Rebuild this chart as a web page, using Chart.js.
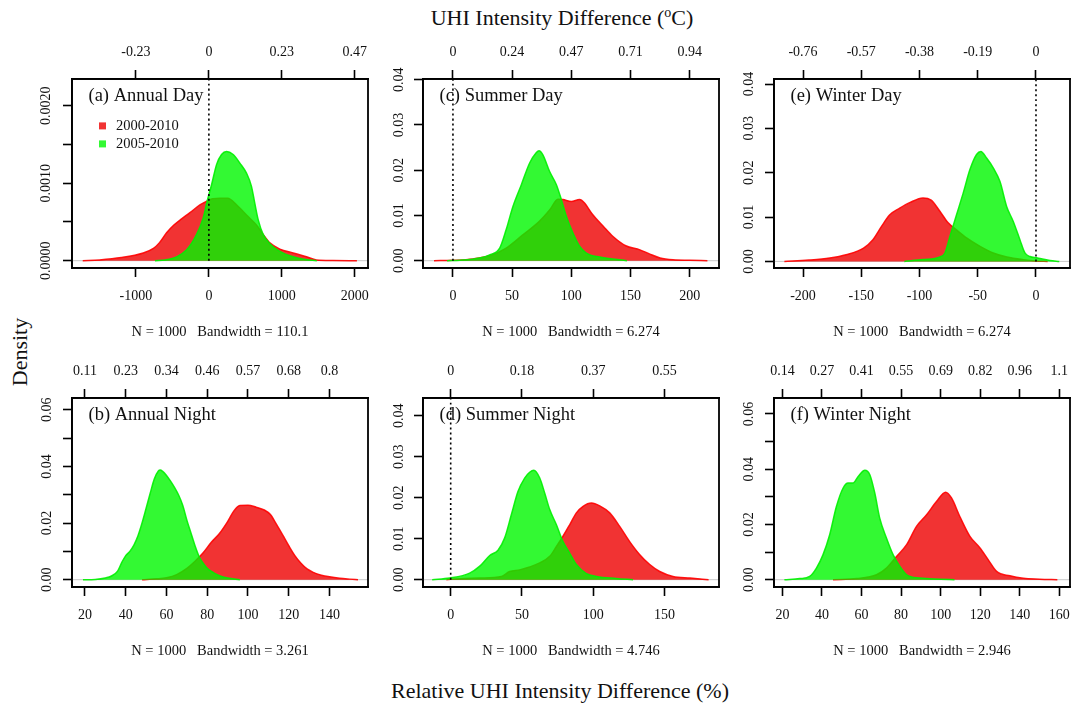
<!DOCTYPE html>
<html>
<head>
<meta charset="utf-8">
<script src="https://cdn.jsdelivr.net/npm/chart.js@4.4.0/dist/chart.umd.min.js"></script>
<style>
  html, body { margin: 0; padding: 0; background: #fff; overflow: hidden; }
  #page { position: relative; width: 1071px; height: 703px; font-family: "Liberation Serif", serif; color: #111; }
  #page canvas { position: absolute; }
  .lab { position: absolute; font-size: 22px; white-space: nowrap; transform: translate(-50%, -50%); }
  .sup { font-size: 14px; position: relative; top: -8px; }
</style>
</head>
<body>
<div id="page">
  <div class="lab" style="left:562px;top:18px">UHI Intensity Difference (<span class="sup">o</span>C)</div>
  <div class="lab" style="left:20px;top:352px;transform:translate(-50%,-50%) rotate(-90deg)">Density</div>
  <div class="lab" style="left:560px;top:691px">Relative UHI Intensity Difference (%)</div>
</div>
<script>
// series
const seriesNames = ["2000-2010", "2005-2010"];
const panelTitles = ["(a) Annual Day", "(b) Annual Night", "(c) Summer Day", "(d) Summer Night", "(e) Winter Day", "(f) Winter Night"];
const sampleSize = 1000;
const bandwidths = ["110.1", "3.261", "6.274", "4.746", "6.274", "2.946"];

// bottom axis ticks (relative difference, %)
const bottomTicks = [
  [-1000, 0, 1000, 2000],
  [20, 40, 60, 80, 100, 120, 140],
  [0, 50, 100, 150, 200],
  [0, 50, 100, 150],
  [-200, -150, -100, -50, 0],
  [20, 40, 60, 80, 100, 120, 140, 160]
];
// top axis labels (UHI intensity difference, oC), one per bottom tick
const topTickLabels = [
  ["-0.23", "0", "0.23", "0.47"],
  ["0.11", "0.23", "0.34", "0.46", "0.57", "0.68", "0.8"],
  ["0", "0.24", "0.47", "0.71", "0.94"],
  ["0", "0.18", "0.37", "0.55"],
  ["-0.76", "-0.57", "-0.38", "-0.19", "0"],
  ["0.14", "0.27", "0.41", "0.55", "0.69", "0.82", "0.96", "1.1"]
];

// density curves: [relative difference %, density]
const annualDay2000 = [[-1730,0],[-1500,0.00001],[-1200,0.00004],[-900,0.0001],[-760,0.00016],[-680,0.00023],[-580,0.00036],[-480,0.00046],[-374,0.00054],[-260,0.00062],[-123,0.00072],[-23,0.00077],[50,0.0008],[150,0.000805],[260,0.000805],[379,0.00072],[516,0.00059],[653,0.00046],[744,0.00034],[836,0.00023],[973,0.00015],[1155,0.0001],[1338,0.00005],[1475,0.00001],[1700,0.000003],[2030,0]];
const annualDay2005 = [[-740,0],[-600,0.00001],[-442,0.00005],[-305,0.00014],[-168,0.00034],[-78,0.00055],[-23,0.00077],[37,0.00098],[105,0.00124],[174,0.00137],[242,0.00141],[333,0.00137],[425,0.00126],[516,0.00113],[584,0.00096],[630,0.00074],[676,0.00053],[744,0.00034],[836,0.00022],[973,0.00012],[1155,0.00005],[1300,0.00002],[1480,0]];

const annualNight2000 = [[48,0],[55,0.0003],[60,0.0007],[65,0.0018],[70,0.004],[74,0.0065],[78,0.0095],[82,0.0132],[86,0.0163],[90,0.0205],[93,0.0242],[96,0.0262],[100,0.0263],[104,0.0256],[108,0.0246],[111,0.023],[114,0.0195],[117,0.0158],[120,0.012],[123,0.0085],[126,0.0058],[129,0.0038],[132,0.0026],[136,0.0016],[140,0.001],[145,0.0005],[150,0.0002],[154,0]];
const annualNight2005 = [[19,0],[25,0.0001],[30,0.0006],[33,0.0013],[36,0.003],[38,0.006],[40,0.0085],[42,0.01],[44,0.0122],[46,0.0155],[48,0.02],[50,0.0252],[52,0.0305],[54,0.0355],[56,0.0384],[57,0.0387],[58,0.0383],[60,0.0368],[62,0.0348],[64,0.0325],[66,0.0298],[68,0.0262],[70,0.021],[72,0.0165],[74,0.012],[76,0.0082],[78,0.0058],[80,0.004],[83,0.0025],[86,0.0014],[90,0.0006],[96,0]];

const summerDay2000 = [[-16,0],[0,0.0001],[17,0.0004],[31,0.0011],[45,0.0028],[59,0.0057],[73,0.0087],[82,0.0113],[88.7,0.0136],[93,0.0135],[100,0.0131],[107,0.0135],[111,0.0128],[118,0.0102],[127,0.0076],[135,0.0054],[146,0.0033],[158,0.0024],[166,0.0015],[175,0.0006],[186,0.0002],[200,0.0001],[215,0]];
const summerDay2005 = [[-5,0],[6,0.0001],[22.5,0.0006],[31,0.0013],[39.5,0.0028],[45,0.0069],[50.7,0.012],[57.8,0.0168],[64.8,0.0216],[70.5,0.0239],[72.7,0.0243],[76,0.0234],[81.7,0.0197],[87.4,0.0168],[91.6,0.0135],[95.8,0.0098],[101.4,0.0061],[107,0.0032],[112.7,0.0017],[124,0.0008],[135,0.0004],[147,0]];

const summerNight2000 = [[-3,0],[0,0.0001],[20,0.0004],[35.6,0.0008],[41.4,0.002],[48.4,0.0024],[55.4,0.0031],[62.5,0.0041],[69.5,0.0057],[74.2,0.0081],[78.8,0.0106],[83.5,0.0134],[88.2,0.0163],[92.9,0.0179],[98.8,0.0187],[104.6,0.018],[111.6,0.0163],[118.6,0.013],[125.6,0.0093],[132.7,0.0061],[139.7,0.0037],[146.7,0.002],[156,0.0008],[168,0.0004],[181,0]];
const summerNight2005 = [[-13,0],[-0.7,0.0004],[13.3,0.0016],[20.4,0.0033],[27.4,0.0059],[33.2,0.0072],[37.9,0.0102],[42.6,0.0159],[47.2,0.0215],[51.9,0.0248],[55.4,0.0262],[58.3,0.0267],[62.5,0.0248],[66,0.0211],[69.5,0.0171],[74.2,0.0134],[78.8,0.0093],[83.5,0.0065],[88.2,0.0037],[95.2,0.0015],[102.3,0.0008],[116,0.0003],[128,0]];

const winterDay2000 = [[-216,0],[-195,0.0003],[-177,0.00076],[-163,0.0015],[-148,0.003],[-140,0.0049],[-132.6,0.0079],[-125.5,0.0105],[-117,0.012],[-108,0.0133],[-97,0.0143],[-90,0.0138],[-82.5,0.0113],[-75.4,0.0087],[-68.2,0.0071],[-59.6,0.0053],[-48,0.0034],[-36.7,0.0019],[-25,0.001],[-11,0.0004],[0,0.0001],[10,0]];
const winterDay2005 = [[-113,0],[-97,0.0004],[-82.5,0.001],[-78.2,0.0019],[-73.9,0.0056],[-68.2,0.0105],[-62.5,0.0154],[-56.7,0.0207],[-51,0.0241],[-47.3,0.0248],[-42.4,0.0233],[-36.7,0.0211],[-30.9,0.018],[-25.2,0.0124],[-19.5,0.009],[-13.8,0.0049],[-9.5,0.0019],[-5.2,0.0011],[0.6,0.0008],[12,0.0002],[20,0]];

const winterNight2000 = [[45.6,0],[57.5,0.0004],[67.6,0.0018],[72.6,0.0042],[77.7,0.0084],[82.8,0.0127],[87.8,0.0193],[92.9,0.0235],[97.9,0.0283],[102.5,0.0317],[105.5,0.0296],[109.7,0.0229],[114.8,0.0157],[119.9,0.0115],[124.1,0.0072],[128.3,0.003],[135,0.0014],[141.8,0.0005],[150,0.0002],[159,0]];
const winterNight2005 = [[21,0],[28.8,0.0004],[33.8,0.0012],[37.2,0.0042],[40.5,0.009],[43.9,0.0163],[47.3,0.0265],[50.7,0.0332],[53.2,0.035],[55.7,0.035],[58.3,0.0374],[61.7,0.0396],[64.2,0.038],[66.7,0.0314],[69.2,0.0223],[72.6,0.0151],[76,0.009],[79.4,0.0048],[82.8,0.0018],[89.5,0.0006],[100,0.0002],[107,0]];

const curves = [
  [annualDay2000, annualDay2005],
  [annualNight2000, annualNight2005],
  [summerDay2000, summerDay2005],
  [summerNight2000, summerNight2005],
  [winterDay2000, winterDay2005],
  [winterNight2000, winterNight2005]
];

// layout: plot box in page pixels, axis ranges, y step
const frames = [
  { box: [72, 79.3, 368.3, 268.3], x: [-1877, 2182], y: [-0.0000942, 0.002345, 0.0005], yEvery: 2, yDigits: 4, yPad: -3, vline: true, legend: true },
  { box: [72, 398.3, 368.3, 587.3], x: [13.62, 158.9], y: [-0.00258, 0.06414, 0.01], yEvery: 2, yDigits: 2, yPad: 3.5 },
  { box: [423.3, 79.3, 719.3, 268.3], x: [-25.3, 224.8], y: [-0.00161, 0.04015, 0.01], yEvery: 1, yDigits: 2, yPad: 2, vline: true },
  { box: [423.3, 398.3, 719.3, 587.3], x: [-19.44, 188.3], y: [-0.00178, 0.04432, 0.01], yEvery: 1, yDigits: 2, yPad: 2.5, vline: true },
  { box: [774.3, 79.3, 1070, 268.3], x: [-224.9, 29.2], y: [-0.00149, 0.04113, 0.01], yEvery: 1, yDigits: 2, yPad: 3, vline: true },
  { box: [774.3, 398.3, 1070, 587.3], x: [15.75, 165.4], y: [-0.00264, 0.06579, 0.01], yEvery: 2, yDigits: 2, yPad: 3.5 }
];

const W_Y = 60, H_TOP = 40, H_BOT = 73, PAD_R = 12;
const redFill = "rgba(238,0,0,0.8)", greenFill = "rgba(0,248,0,0.8)";
const redLine = "rgba(255,0,0,0.9)", greenLine = "rgba(0,240,0,0.9)";
const ink = "#111";

Chart.defaults.font.family = '"Liberation Serif", serif';
Chart.defaults.font.size = 14;
Chart.defaults.color = ink;

const panelDecor = {
  id: "panelDecor",
  afterDraw(chart, args, opts) {
    const { ctx, chartArea: a } = chart;
    ctx.save();
    ctx.strokeStyle = "#000";
    ctx.lineWidth = 1.8;
    ctx.strokeRect(a.left, a.top, a.right - a.left, a.bottom - a.top);
    ctx.fillStyle = ink;
    ctx.textBaseline = "middle";
    ctx.textAlign = "left";
    ctx.font = '18.5px "Liberation Serif", serif';
    ctx.fillText(opts.title, a.left + 16.5, a.top + 17.5);
    if (opts.legend) {
      ctx.font = '14.5px "Liberation Serif", serif';
      chart.data.datasets.slice(0, 2).forEach((ds, k) => {
        const cy = a.top + 46.7 + k * 18;
        ctx.fillStyle = ds.backgroundColor;
        ctx.fillRect(a.left + 27, cy - 3.3, 7, 7);
        ctx.fillStyle = ink;
        ctx.fillText(ds.label, a.left + 44, cy);
      });
    }
    ctx.restore();
  }
};

const page = document.getElementById("page");

frames.forEach((f, i) => {
  const [l, t, r, b] = f.box;
  const cv = document.createElement("canvas");
  const w = Math.round(W_Y + (r - l) + PAD_R);
  const h = Math.round(H_TOP + (b - t) + H_BOT);
  cv.width = w;
  cv.height = h;
  cv.style.left = (l - W_Y) + "px";
  cv.style.top = (t - H_TOP) + "px";
  cv.style.width = w + "px";
  cv.style.height = h + "px";
  page.appendChild(cv);

  const [red, green] = curves[i];
  const toPts = (arr) => arr.map(([x, y]) => ({ x, y }));
  const tickGrid = { display: true, drawOnChartArea: false, drawTicks: true, tickLength: 9, tickColor: "#000", tickWidth: 1.6 };
  const border = { display: true, color: "#000", width: 1.8 };
  const xTicks = (s) => { s.ticks = bottomTicks[i].map((v) => ({ value: v })); };
  const yTicks = (s) => {
    const out = [];
    for (let k = 0; k * f.y[2] <= f.y[1] + 1e-12; k++) out.push({ value: +(k * f.y[2]).toFixed(6) });
    s.ticks = out;
  };

  const datasets = [
    { label: seriesNames[0], data: toPts(red), backgroundColor: redFill, borderColor: redLine, fill: "origin", order: 2 },
    { label: seriesNames[1], data: toPts(green), backgroundColor: greenFill, borderColor: greenLine, fill: "origin", order: 1 },
    { label: "zero", data: [{ x: f.x[0], y: 0 }, { x: f.x[1], y: 0 }], borderColor: "#c8c8c8", borderWidth: 1, fill: false, order: 3 }
  ];
  if (f.vline) {
    datasets.push({ label: "x0", data: [{ x: 0, y: 0 }, { x: 0, y: f.y[1] }], borderColor: "#000", borderWidth: 1.6, borderDash: [2, 3], fill: false, order: 0 });
  }

  new Chart(cv, {
    type: "scatter",
    data: { datasets },
    options: {
      responsive: false,
      animation: false,
      layout: { padding: { left: 0, top: 0, bottom: 0, right: PAD_R } },
      elements: {
        point: { radius: 0, hoverRadius: 0 },
        line: { borderWidth: 1.5, cubicInterpolationMode: "monotone" }
      },
      datasets: { scatter: { showLine: true } },
      plugins: {
        legend: { display: false },
        tooltip: { enabled: false },
        panelDecor: { title: panelTitles[i], legend: !!f.legend }
      },
      scales: {
        x: {
          type: "linear", position: "bottom", min: f.x[0], max: f.x[1],
          grid: tickGrid, border,
          afterBuildTicks: xTicks,
          ticks: {
            autoSkip: false, maxRotation: 0, padding: 11,
            callback: (v) => String(Math.abs(v) < 1e-9 ? 0 : v)
          },
          title: { display: true, text: `N = ${sampleSize}   Bandwidth = ${bandwidths[i]}`, padding: 0, font: { size: 14.5 } },
          afterFit: (s) => { s.height = H_BOT; s.paddingLeft = 0; s.paddingRight = 0; }
        },
        x2: {
          type: "linear", position: "top", min: f.x[0], max: f.x[1],
          grid: tickGrid, border,
          afterBuildTicks: xTicks,
          ticks: {
            autoSkip: false, maxRotation: 0, padding: 9,
            callback: (v, idx) => topTickLabels[i][idx]
          },
          afterFit: (s) => { s.height = H_TOP; s.paddingLeft = 0; s.paddingRight = 0; }
        },
        y: {
          type: "linear", position: "left", min: f.y[0], max: f.y[1],
          grid: tickGrid, border,
          afterBuildTicks: yTicks,
          ticks: {
            autoSkip: false,
            minRotation: 90, maxRotation: 90, crossAlign: "center", padding: f.yPad,
            callback: (v) => {
              const k = Math.round(v / f.y[2]);
              return k % f.yEvery === 0 ? v.toFixed(f.yDigits) : "";
            }
          },
          afterFit: (s) => { s.width = W_Y; s.paddingTop = 0; s.paddingBottom = 0; }
        }
      }
    },
    plugins: [panelDecor]
  });
});
</script>
</body>
</html>
